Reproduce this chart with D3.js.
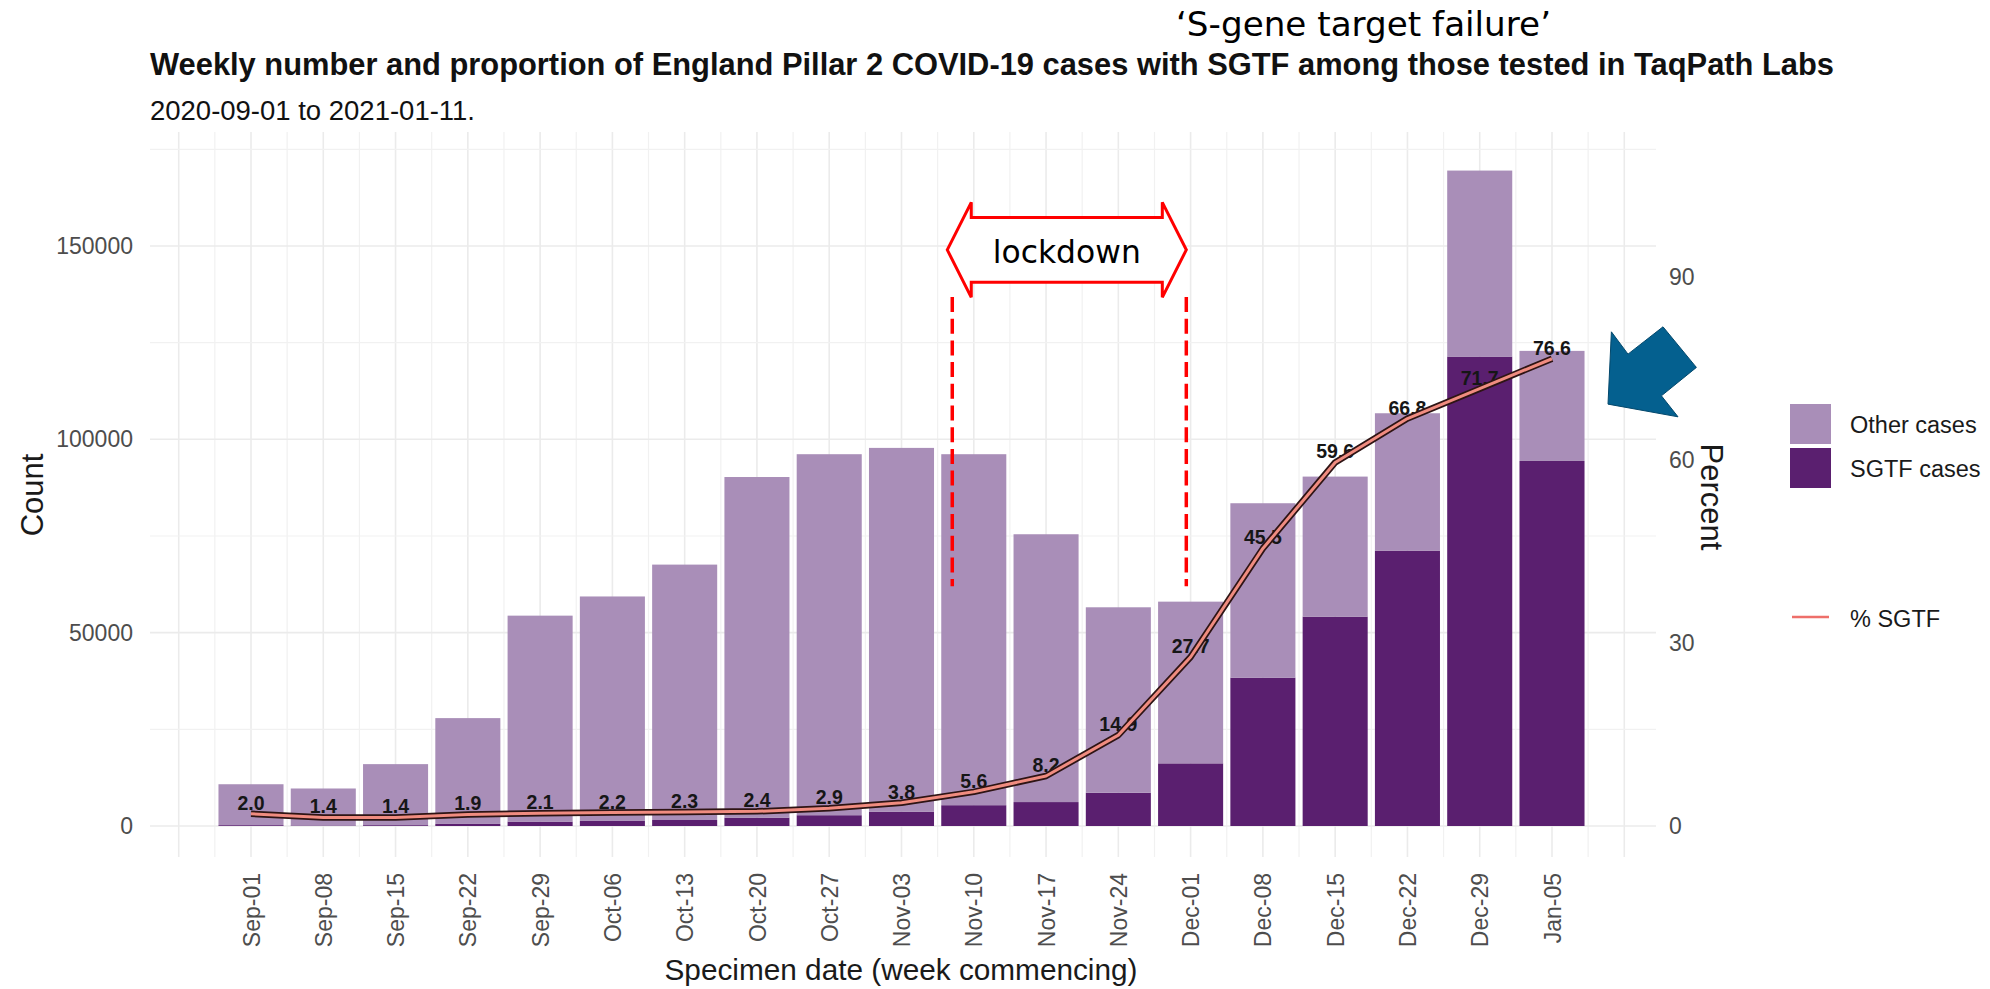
<!DOCTYPE html>
<html>
<head>
<meta charset="utf-8">
<script src="https://cdnjs.cloudflare.com/ajax/libs/d3/7.8.5/d3.min.js"></script>
<style>
	body { margin: 0; background: #fff; }
	svg { display: block; font-family: "Liberation Sans", Arial, sans-serif; }
</style>
</head>
<body>
<svg id="chart"></svg>
<script>
// week commencing
const weeks = ["2020-09-01", "2020-09-08", "2020-09-15", "2020-09-22", "2020-09-29", "2020-10-06", "2020-10-13",
	"2020-10-20", "2020-10-27", "2020-11-03", "2020-11-10", "2020-11-17", "2020-11-24", "2020-12-01",
	"2020-12-08", "2020-12-15", "2020-12-22", "2020-12-29", "2021-01-05"];
const sgtfCases = [220, 140, 220, 530, 1140, 1310, 1550, 2170, 2790, 3720, 5380, 6190, 8600, 16200,
	38370, 54150, 71220, 121400, 94400];
const otherCases = [10580, 9560, 15780, 27370, 53260, 58050, 66050, 88080, 93360, 94060, 90770, 69260, 47960, 41820,
	45100, 36210, 35520, 48100, 28470];
const pctSgtf = [2.0, 1.4, 1.4, 1.9, 2.1, 2.2, 2.3, 2.4, 2.9, 3.8, 5.6, 8.2, 14.9, 27.7, 45.5, 59.6, 66.8, 71.7, 76.6];
const countTicks = [0, 50000, 100000, 150000];
const percentTicks = [0, 30, 60, 90];
const legendLabels = ["Other cases", "SGTF cases"];
const lineLabel = "% SGTF";

const colOther = "#a98eb8";
const colSgtf = "#5a1f6f";

let parseDate = d3.utcParse("%Y-%m-%d");
let data = weeks.map((w, i) => ({ date: parseDate(w), sgtf: sgtfCases[i], other: otherCases[i], pct: pctSgtf[i] }));

let svg = d3.select("#chart")
	.attr("width", 1990)
	.attr("height", 989);

let panel = { left: 150, right: 1656, top: 132, bottom: 857 };

//scales
let x = d3.scaleUtc()
	.domain([data[0].date, data[data.length - 1].date])
	.range([251, 1552]);
let yCount = d3.scaleLinear()
	.domain([0, 175000])
	.range([826, 149.3]);
let yPct = d3.scaleLinear()
	.domain([0, 90])
	.range([826, 277]);

let dayMs = 24 * 3600 * 1000;
let step = x(d3.utcDay.offset(data[0].date, 7)) - x(data[0].date);
let barW = step * 0.9;

//grid
let grid = svg.append("g");
for (let k = -4; k <= 42; k++)
{
	let gx = x(new Date(data[0].date.getTime() + k * 3.5 * dayMs));
	if (gx < panel.left || gx > panel.right) continue;
	grid.append("line")
		.attr("x1", gx).attr("x2", gx)
		.attr("y1", panel.top).attr("y2", panel.bottom)
		.attr("stroke", k % 2 == 0 ? "#ebebeb" : "#f1f1f1")
		.attr("stroke-width", k % 2 == 0 ? 1.6 : 1.2);
}
for (let v = 0; v <= 175000; v += 25000)
{
	grid.append("line")
		.attr("x1", panel.left).attr("x2", panel.right)
		.attr("y1", yCount(v)).attr("y2", yCount(v))
		.attr("stroke", v % 50000 == 0 ? "#ebebeb" : "#f1f1f1")
		.attr("stroke-width", v % 50000 == 0 ? 1.6 : 1.2);
}

//stacked bars
let series = d3.stack().keys(["sgtf", "other"])(data);
svg.append("g")
	.selectAll("g")
	.data(series)
	.enter()
	.append("g")
	.attr("fill", d => d.key == "sgtf" ? colSgtf : colOther)
	.selectAll("rect")
	.data(d => d)
	.enter()
	.append("rect")
	.attr("x", d => x(d.data.date) - barW / 2)
	.attr("width", barW)
	.attr("y", d => yCount(d[1]))
	.attr("height", d => yCount(d[0]) - yCount(d[1]));

//percent labels
svg.append("g")
	.selectAll("text")
	.data(data)
	.enter()
	.append("text")
	.attr("x", d => x(d.date))
	.attr("y", d => yPct(d.pct) - 11)
	.attr("text-anchor", "middle")
	.attr("dominant-baseline", "central")
	.attr("font-size", 19.5)
	.attr("font-weight", "bold")
	.attr("fill", "#161616")
	.text(d => d.pct.toFixed(1));

//% SGTF line
let line = d3.line()
	.x(d => x(d.date))
	.y(d => yPct(d.pct));
svg.append("path")
	.datum(data)
	.attr("fill", "none")
	.attr("stroke", "#2e1414")
	.attr("stroke-width", 6.5)
	.attr("stroke-linejoin", "round")
	.attr("d", line);
svg.append("path")
	.datum(data)
	.attr("fill", "none")
	.attr("stroke", "#f08c80")
	.attr("stroke-width", 3)
	.attr("stroke-linejoin", "round")
	.attr("d", line);

//axes
let styleAxis = function (g)
{
	g.select(".domain").remove();
	g.selectAll("text")
		.attr("font-size", 23)
		.attr("font-family", "Liberation Sans, Arial, sans-serif")
		.attr("fill", "#4d4d4d");
}

svg.append("g")
	.attr("transform", "translate(142,0)")
	.call(d3.axisLeft(yCount).tickValues(countTicks).tickSize(0).tickPadding(9).tickFormat(d3.format("d")))
	.call(styleAxis);

svg.append("g")
	.attr("transform", "translate(1660,0)")
	.call(d3.axisRight(yPct).tickValues(percentTicks).tickSize(0).tickPadding(9))
	.call(styleAxis);

svg.append("g")
	.attr("transform", "translate(0,862)")
	.call(d3.axisBottom(x).tickValues(data.map(d => d.date)).tickSize(0).tickFormat(d3.utcFormat("%b-%d")))
	.call(styleAxis)
	.selectAll("text")
	.attr("transform", "rotate(-90)")
	.attr("text-anchor", "end")
	.attr("x", -11)
	.attr("y", 0)
	.attr("dy", "0.35em");

//titles
svg.append("text")
	.attr("x", 150).attr("y", 75)
	.attr("font-size", 30.5)
	.attr("font-weight", "bold")
	.attr("fill", "#111")
	.attr("textLength", 1684)
	.attr("lengthAdjust", "spacingAndGlyphs")
	.text("Weekly number and proportion of England Pillar 2 COVID-19 cases with SGTF among those tested in TaqPath Labs");
svg.append("text")
	.attr("x", 150).attr("y", 120)
	.attr("font-size", 27.5)
	.attr("fill", "#111")
	.attr("textLength", 325)
	.attr("lengthAdjust", "spacingAndGlyphs")
	.text("2020-09-01 to 2021-01-11.");
svg.append("text")
	.attr("x", 901).attr("y", 980)
	.attr("text-anchor", "middle")
	.attr("font-size", 30)
	.attr("fill", "#1a1a1a")
	.attr("textLength", 473)
	.attr("lengthAdjust", "spacingAndGlyphs")
	.text("Specimen date (week commencing)");
svg.append("text")
	.attr("transform", "translate(32,495) rotate(-90)")
	.attr("text-anchor", "middle")
	.attr("dominant-baseline", "central")
	.attr("font-size", 31)
	.attr("fill", "#1a1a1a")
	.text("Count");
svg.append("text")
	.attr("transform", "translate(1711,497) rotate(90)")
	.attr("text-anchor", "middle")
	.attr("dominant-baseline", "central")
	.attr("font-size", 31)
	.attr("fill", "#1a1a1a")
	.text("Percent");

//legend
let legend = svg.append("g").attr("transform", "translate(1790,404)");
legendLabels.forEach(function (lab, i)
{
	legend.append("rect")
		.attr("x", 0).attr("y", i * 44)
		.attr("width", 41).attr("height", 40)
		.attr("fill", i == 0 ? colOther : colSgtf);
	legend.append("text")
		.attr("x", 60).attr("y", i * 44 + 21)
		.attr("dominant-baseline", "central")
		.attr("font-size", 23.5)
		.attr("fill", "#1a1a1a")
		.text(lab);
});
legend.append("line")
	.attr("x1", 2).attr("x2", 39)
	.attr("y1", 213).attr("y2", 213)
	.attr("stroke", "#ee6f6a")
	.attr("stroke-width", 2.5);
legend.append("text")
	.attr("x", 60).attr("y", 215)
	.attr("dominant-baseline", "central")
	.attr("font-size", 23.5)
	.attr("fill", "#1a1a1a")
	.text(lineLabel);

//lockdown annotation
let lockdownStart = new Date(Date.UTC(2020, 10, 7, 22));
let lockdownEnd = new Date(Date.UTC(2020, 10, 30, 14));
let ann = svg.append("g");
[lockdownStart, lockdownEnd].forEach(function (d)
{
	ann.append("line")
		.attr("x1", x(d)).attr("x2", x(d))
		.attr("y1", yCount(136800)).attr("y2", yCount(62000))
		.attr("stroke", "#ff0000")
		.attr("stroke-width", 3.5)
		.attr("stroke-dasharray", "15,6.7");
});
let ax0 = x(lockdownStart) - 5, ax1 = x(lockdownEnd), ay = yCount(149000);
let head = 24, hh = 47.5, sh = 32.3;
ann.append("path")
	.attr("d", d3.line()([
		[ax0, ay], [ax0 + head, ay - hh], [ax0 + head, ay - sh], [ax1 - head, ay - sh], [ax1 - head, ay - hh],
		[ax1, ay], [ax1 - head, ay + hh], [ax1 - head, ay + sh], [ax0 + head, ay + sh], [ax0 + head, ay + hh]
	]) + "Z")
	.attr("fill", "#fff")
	.attr("stroke", "#ff0000")
	.attr("stroke-width", 3);
ann.append("text")
	.attr("x", (ax0 + ax1) / 2).attr("y", ay + 13)
	.attr("text-anchor", "middle")
	.attr("font-family", "DejaVu Sans")
	.attr("font-size", 32)
	.attr("fill", "#000")
	.attr("textLength", 148)
	.attr("lengthAdjust", "spacingAndGlyphs")
	.text("lockdown");

svg.append("text")
	.attr("x", 1176).attr("y", 36)
	.attr("font-family", "DejaVu Sans")
	.attr("font-size", 33)
	.attr("fill", "#000")
	.attr("textLength", 375)
	.attr("lengthAdjust", "spacingAndGlyphs")
	.text("\u2018S-gene target failure\u2019");

//blue arrow pointing at last week
let tx = x(data[data.length - 1].date) + 56, ty = yCount(109100);
let arrowPts = [[0, 0], [3.4, -72.3], [20, -50], [55, -77.3], [88.4, -36.7], [53.4, -8.3], [70, 12.7]];
svg.append("path")
	.attr("d", d3.line()(arrowPts.map(p => [tx + p[0], ty + p[1]])) + "Z")
	.attr("fill", "#04608f")
	.attr("stroke", "#03486c")
	.attr("stroke-width", 1);
</script>
</body>
</html>
